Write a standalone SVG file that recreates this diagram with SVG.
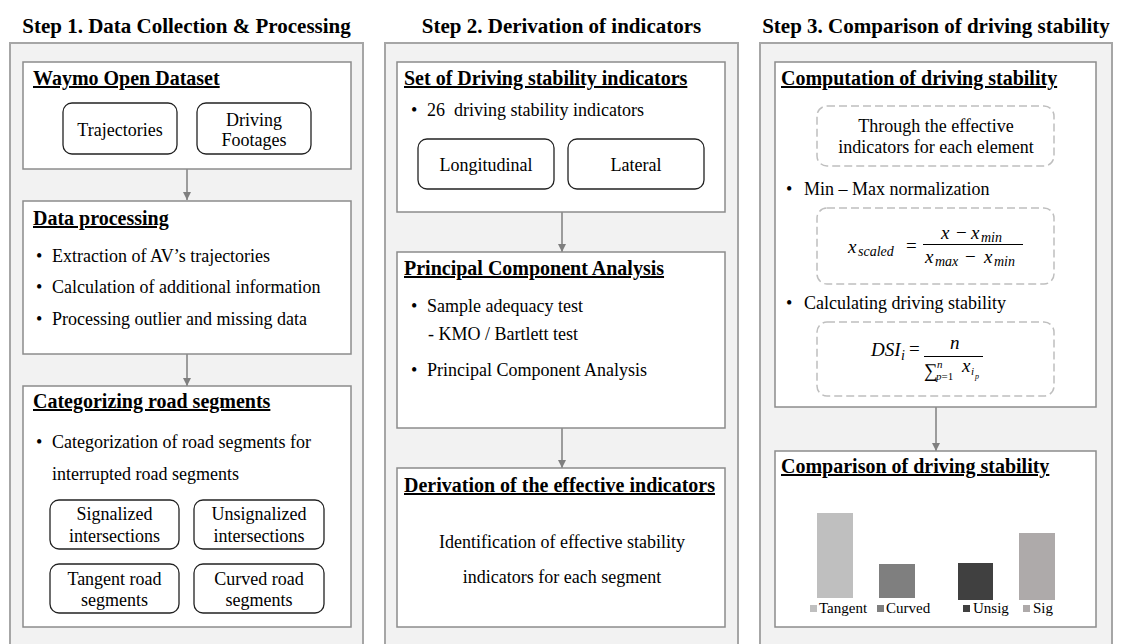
<svg xmlns="http://www.w3.org/2000/svg" width="1122" height="644" viewBox="0 0 1122 644">
<defs>
<marker id="ah" viewBox="0 0 8 8" refX="8" refY="4" markerWidth="8" markerHeight="8" markerUnits="userSpaceOnUse" orient="auto">
<path d="M0,0 L8,4 L0,8 z" fill="#7f7f7f"/>
</marker>
<style>
text{font-family:"Liberation Serif","Times New Roman",serif;fill:#000}
.hd{font-size:21px;font-weight:bold;text-anchor:middle}
.tt{font-size:20px;font-weight:bold;text-decoration:underline}
.bd{font-size:18px}
.c{text-anchor:middle}
.panel{fill:#f2f2f2;stroke:#a6a6a6;stroke-width:2}
.box{fill:#fff;stroke:#8c8c8c;stroke-width:1.5}
.rb{fill:#fff;stroke:#222;stroke-width:1.3}
.db{fill:none;stroke:#bfbfbf;stroke-width:1.5;stroke-dasharray:8 4}
.cn{stroke:#7f7f7f;stroke-width:1.5;fill:none;marker-end:url(#ah)}
.m{font-style:italic;font-size:19px}
.ms{font-style:italic;font-size:14px}
.mn{font-size:19px}
.lg{font-size:15px}
</style>
</defs>
<rect width="1122" height="644" fill="#fff"/>

<g id="panel1">
<text class="hd" x="186.5" y="33">Step 1. Data Collection &amp; Processing</text>
<rect class="panel" x="10" y="43" width="353" height="620"/>
</g>
<g id="panel2">
<text class="hd" x="561.5" y="33">Step 2. Derivation of indicators</text>
<rect class="panel" x="385" y="43" width="353" height="620"/>
</g>
<g id="panel3">
<text class="hd" x="936" y="33">Step 3. Comparison of driving stability</text>
<rect class="panel" x="760" y="43" width="352" height="620"/>
</g>

<g id="connectors">
<line class="cn" x1="187" y1="169" x2="187" y2="200"/>
<line class="cn" x1="187" y1="354" x2="187" y2="386"/>
<line class="cn" x1="562" y1="212" x2="562" y2="252"/>
<line class="cn" x1="562" y1="428" x2="562" y2="468"/>
<line class="cn" x1="936" y1="407" x2="936" y2="451"/>
</g>

<g id="waymo">
<rect class="box" x="23" y="62" width="328" height="107"/>
<text class="tt" x="33" y="85">Waymo Open Dataset</text>
<rect class="rb" x="63" y="103" width="114" height="51" rx="9"/>
<text class="bd c" x="120" y="136">Trajectories</text>
<rect class="rb" x="197" y="103" width="114" height="51" rx="9"/>
<text class="bd c" x="254" y="126">Driving</text>
<text class="bd c" x="254" y="146">Footages</text>
</g>

<g id="data-processing">
<rect class="box" x="23" y="201" width="328" height="153"/>
<text class="tt" x="33" y="225">Data processing</text>
<text class="bd" x="36" y="262">•</text><text class="bd" x="52" y="262">Extraction of AV’s trajectories</text>
<text class="bd" x="36" y="293">•</text><text class="bd" x="52" y="293">Calculation of additional information</text>
<text class="bd" x="36" y="325">•</text><text class="bd" x="52" y="325">Processing outlier and missing data</text>
</g>

<g id="categorizing">
<rect class="box" x="23" y="386" width="328" height="241"/>
<text class="tt" x="33" y="408">Categorizing road segments</text>
<text class="bd" x="36" y="448">•</text><text class="bd" x="52" y="448">Categorization of road segments for</text>
<text class="bd" x="52" y="480">interrupted road segments</text>
<rect class="rb" x="50" y="500" width="129" height="49" rx="9"/>
<text class="bd c" x="114.5" y="520">Signalized</text>
<text class="bd c" x="114.5" y="542">intersections</text>
<rect class="rb" x="194" y="500" width="130" height="49" rx="9"/>
<text class="bd c" x="259" y="520">Unsignalized</text>
<text class="bd c" x="259" y="542">intersections</text>
<rect class="rb" x="50" y="564" width="129" height="49" rx="9"/>
<text class="bd c" x="114.5" y="585">Tangent road</text>
<text class="bd c" x="114.5" y="606">segments</text>
<rect class="rb" x="194" y="564" width="130" height="49" rx="9"/>
<text class="bd c" x="259" y="585">Curved road</text>
<text class="bd c" x="259" y="606">segments</text>
</g>

<g id="indicator-set">
<rect class="box" x="397" y="62" width="328" height="150"/>
<text class="tt" x="404" y="85">Set of Driving stability indicators</text>
<text class="bd" x="411" y="116">•</text><text class="bd" x="427" y="116" xml:space="preserve">26  driving stability indicators</text>
<rect class="rb" x="418" y="139" width="136" height="50" rx="9"/>
<text class="bd c" x="486" y="171">Longitudinal</text>
<rect class="rb" x="568" y="139" width="136" height="50" rx="9"/>
<text class="bd c" x="636" y="171">Lateral</text>
</g>

<g id="pca">
<rect class="box" x="397" y="252" width="328" height="176"/>
<text class="tt" x="404" y="275">Principal Component Analysis</text>
<text class="bd" x="411" y="312">•</text><text class="bd" x="427" y="312">Sample adequacy test</text>
<text class="bd" x="428" y="340">- KMO / Bartlett test</text>
<text class="bd" x="411" y="376">•</text><text class="bd" x="427" y="376">Principal Component Analysis</text>
</g>

<g id="effective-indicators">
<rect class="box" x="397" y="468" width="328" height="159"/>
<text class="tt" x="404" y="492">Derivation of the effective indicators</text>
<text class="bd c" x="562" y="548">Identification of effective stability</text>
<text class="bd c" x="562" y="583">indicators for each segment</text>
</g>

<g id="computation">
<rect class="box" x="775" y="62" width="321" height="345"/>
<text class="tt" x="781" y="85">Computation of driving stability</text>
<rect class="db" x="817" y="106" width="237" height="60" rx="10"/>
<text class="bd c" x="936" y="132">Through the effective</text>
<text class="bd c" x="936" y="153">indicators for each element</text>
<text class="bd" x="786" y="195">•</text><text class="bd" x="804" y="195">Min – Max normalization</text>
<rect class="db" x="817" y="208" width="237" height="76" rx="10"/>
<text class="m" x="848" y="253">x</text><text class="ms" x="858" y="256">scaled</text>
<text class="mn" x="906" y="252">=</text>
<text class="m" x="941" y="239">x</text><text class="mn" x="956" y="239">−</text><text class="m" x="971" y="239">x</text><text class="ms" x="981" y="242">min</text>
<line x1="923" y1="244.5" x2="1023" y2="244.5" stroke="#000" stroke-width="1"/>
<text class="m" x="925" y="263">x</text><text class="ms" x="935" y="266">max</text><text class="mn" x="965" y="263">−</text><text class="m" x="984" y="263">x</text><text class="ms" x="994" y="266">min</text>
<text class="bd" x="786" y="309">•</text><text class="bd" x="804" y="309">Calculating driving stability</text>
<rect class="db" x="817" y="322" width="237" height="74" rx="10"/>
<text class="m" x="871" y="356">DSI</text><text class="ms" x="901" y="360">i</text>
<text class="mn" x="909" y="355">=</text>
<text class="m" x="950" y="349">n</text>
<line x1="924" y1="356.5" x2="983" y2="356.5" stroke="#000" stroke-width="1"/>
<text class="mn" x="924" y="377">∑</text>
<text style="font-size:11px;font-style:italic" x="937" y="368">n</text>
<text style="font-size:11px" x="936" y="380"><tspan font-style="italic">p</tspan>=1</text>
<text class="m" x="962" y="372">x</text>
<text style="font-size:11px;font-style:italic" x="971" y="375">i</text>
<text style="font-size:8px;font-style:italic" x="975" y="379">p</text>
</g>

<g id="comparison">
<rect class="box" x="775" y="451" width="321" height="176"/>
<text class="tt" x="781" y="473">Comparison of driving stability</text>
<rect x="817" y="513" width="36" height="85" fill="#bfbfbf"/>
<rect x="879" y="564" width="36" height="34" fill="#7f7f7f"/>
<rect x="958" y="563" width="35" height="37" fill="#404040"/>
<rect x="1019" y="533" width="36" height="67" fill="#aeaaaa"/>
<rect x="810" y="605" width="7" height="7" fill="#bfbfbf"/>
<text class="lg" x="819" y="613">Tangent</text>
<rect x="877" y="605" width="7" height="7" fill="#7f7f7f"/>
<text class="lg" x="886" y="613">Curved</text>
<rect x="963" y="605" width="7" height="7" fill="#404040"/>
<text class="lg" x="973" y="613">Unsig</text>
<rect x="1023" y="605" width="7" height="7" fill="#aeaaaa"/>
<text class="lg" x="1033" y="613">Sig</text>
</g>
</svg>
